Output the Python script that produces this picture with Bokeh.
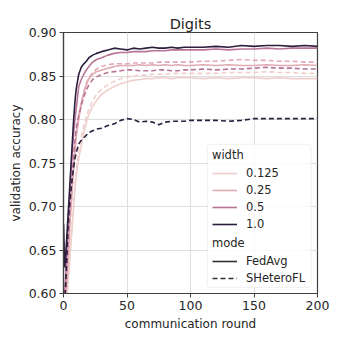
from bokeh.plotting import figure
from bokeh.models import (Range1d, FixedTicker, PrintfTickFormatter, Legend, LegendItem,
                          BoxAnnotation)
from bokeh.embed import file_html
from bokeh.resources import INLINE

# ---------------- data ----------------
rounds = [0, 1, 2, 3, 4, 5, 6, 7, 8, 9, 10, 12, 14, 16, 18, 20, 23, 26, 30, 35, 40, 45, 50,
          55, 60, 65, 70, 75, 80, 85, 90, 95, 100, 110, 120, 130, 140, 150, 160, 170, 180, 190, 200]

fedavg_1000 = [0.680, 0.630, 0.650, 0.675, 0.700, 0.725, 0.750, 0.775, 0.800, 0.820, 0.835,
               0.852, 0.860, 0.864, 0.867, 0.871, 0.874, 0.876, 0.878, 0.880, 0.882, 0.881, 0.880,
               0.882, 0.881, 0.882, 0.883, 0.882, 0.882, 0.883, 0.882, 0.883, 0.883, 0.883, 0.884,
               0.883, 0.885, 0.884, 0.885, 0.885, 0.884, 0.885, 0.884]
fedavg_0500 = [0.590, 0.600, 0.630, 0.660, 0.690, 0.715, 0.740, 0.765, 0.785, 0.800, 0.812,
               0.838, 0.846, 0.852, 0.857, 0.861, 0.866, 0.869, 0.871, 0.874, 0.876, 0.877, 0.877,
               0.878, 0.878, 0.878, 0.879, 0.879, 0.879, 0.880, 0.880, 0.880, 0.880, 0.880, 0.881,
               0.880, 0.881, 0.881, 0.882, 0.881, 0.882, 0.882, 0.882]
fedavg_0250 = [0.590, 0.590, 0.600, 0.620, 0.650, 0.680, 0.700, 0.725, 0.745, 0.765, 0.780,
               0.800, 0.818, 0.830, 0.840, 0.847, 0.852, 0.855, 0.857, 0.859, 0.861, 0.862, 0.862,
               0.862, 0.863, 0.862, 0.863, 0.862, 0.863, 0.862, 0.863, 0.862, 0.862, 0.863, 0.862,
               0.863, 0.862, 0.862, 0.863, 0.862, 0.862, 0.863, 0.862]
fedavg_0125 = [0.580, 0.580, 0.590, 0.600, 0.620, 0.640, 0.660, 0.680, 0.700, 0.720, 0.735,
               0.755, 0.770, 0.785, 0.797, 0.806, 0.815, 0.822, 0.829, 0.834, 0.838, 0.841, 0.843,
               0.845, 0.846, 0.847, 0.847, 0.848, 0.848, 0.847, 0.848, 0.848, 0.848, 0.847, 0.848,
               0.847, 0.848, 0.848, 0.847, 0.848, 0.847, 0.847, 0.847]

hetero_1000 = [0.580, 0.590, 0.620, 0.660, 0.690, 0.705, 0.720, 0.734, 0.745, 0.755, 0.762,
               0.772, 0.776, 0.779, 0.782, 0.785, 0.787, 0.789, 0.790, 0.793, 0.795, 0.799, 0.801,
               0.800, 0.797, 0.798, 0.797, 0.794, 0.797, 0.798, 0.798, 0.798, 0.799, 0.799, 0.799,
               0.798, 0.799, 0.801, 0.801, 0.801, 0.801, 0.801, 0.801]
hetero_0500 = [0.590, 0.590, 0.610, 0.640, 0.670, 0.700, 0.720, 0.740, 0.760, 0.775, 0.790,
               0.805, 0.816, 0.826, 0.834, 0.840, 0.846, 0.849, 0.852, 0.854, 0.855, 0.856, 0.857,
               0.857, 0.856, 0.856, 0.856, 0.857, 0.857, 0.856, 0.856, 0.857, 0.857, 0.858, 0.857,
               0.858, 0.858, 0.859, 0.860, 0.859, 0.859, 0.858, 0.858]
hetero_0250 = [0.585, 0.590, 0.600, 0.625, 0.650, 0.680, 0.700, 0.725, 0.745, 0.765, 0.782,
               0.805, 0.820, 0.832, 0.842, 0.848, 0.854, 0.858, 0.861, 0.863, 0.864, 0.864, 0.864,
               0.865, 0.865, 0.865, 0.865, 0.866, 0.866, 0.866, 0.866, 0.866, 0.866, 0.867, 0.867,
               0.868, 0.869, 0.868, 0.868, 0.867, 0.867, 0.866, 0.866]
hetero_0125 = [0.580, 0.580, 0.590, 0.605, 0.625, 0.645, 0.665, 0.685, 0.705, 0.725, 0.740,
               0.765, 0.780, 0.793, 0.803, 0.812, 0.822, 0.829, 0.835, 0.840, 0.844, 0.847, 0.849,
               0.850, 0.851, 0.851, 0.852, 0.852, 0.852, 0.853, 0.853, 0.853, 0.853, 0.853, 0.853,
               0.854, 0.854, 0.854, 0.855, 0.854, 0.854, 0.853, 0.853]

widths = ["0.125", "0.25", "0.5", "1.0"]
modes = ["FedAvg", "SHeteroFL"]
x_ticks = [0, 50, 100, 150, 200]
y_ticks = [0.60, 0.65, 0.70, 0.75, 0.80, 0.85, 0.90]

# ---------------- style ----------------
colors = ["#efcfcb", "#e1aab2", "#b87496", "#2d1e3e"]
FONT = "DejaVu Sans"
TXT = "#262626"
EDGE = "#404040"
LW = 1.6
DASH = "5 3"
NAN = float("nan")

p = figure(width=335, height=335, output_backend="svg", toolbar_location=None,
           x_range=Range1d(0, 200), y_range=Range1d(0.60, 0.90),
           frame_width=254, frame_height=261,
           min_border_left=63, min_border_right=18, min_border_top=32, min_border_bottom=42,
           title="Digits")
p.background_fill_color = "white"
p.border_fill_color = "white"
p.outline_line_color = EDGE
p.outline_line_width = 1.2

p.title.align = "center"
p.title.text_font = FONT
p.title.text_font_size = "14.5px"
p.title.text_font_style = "normal"
p.title.text_color = TXT
p.title.standoff = 2

for ax in (p.xaxis[0], p.yaxis[0]):
    ax.axis_line_color = EDGE
    ax.axis_line_width = 1.2
    ax.major_tick_line_color = EDGE
    ax.major_tick_out = 4
    ax.major_tick_in = 0
    ax.minor_tick_line_color = None
    ax.major_label_text_font = FONT
    ax.major_label_text_font_size = "12.5px"
    ax.major_label_text_color = TXT
    ax.axis_label_text_font = FONT
    ax.axis_label_text_font_size = "12px"
    ax.axis_label_text_font_style = "normal"
    ax.axis_label_text_color = TXT
    ax.major_label_standoff = 3
    ax.axis_label_standoff = 4
p.yaxis[0].axis_label_standoff = 3

p.xaxis.ticker = FixedTicker(ticks=x_ticks)
p.yaxis.ticker = FixedTicker(ticks=y_ticks)
p.yaxis.formatter = PrintfTickFormatter(format="%.2f")
p.xaxis.axis_label = "communication round"
p.yaxis.axis_label = "validation accuracy"
p.grid.grid_line_color = "#dedede"
p.grid.grid_line_width = 1

fed = [fedavg_0125, fedavg_0250, fedavg_0500, fedavg_1000]
het = [hetero_0125, hetero_0250, hetero_0500, hetero_1000]

fed_r = []
for c, ys in zip(colors, fed):
    fed_r.append(p.line(rounds, ys, line_color=c, line_width=LW))
for c, ys in zip(colors, het):
    p.line(rounds, ys, line_color=c, line_width=LW, line_dash=DASH)

# legend-only handles (no visible data)
solid_h = p.line([NAN], [NAN], line_color="#333333", line_width=LW)
dash_h = p.line([NAN], [NAN], line_color="#333333", line_width=LW, line_dash=DASH)

# legend frame
p.add_layout(BoxAnnotation(left=113.3, right=195.0, bottom=0.607, top=0.7716,
                           fill_color="white", fill_alpha=0.8,
                           line_color="#cccccc", line_width=1, border_radius=3, level="overlay"))

def style_legend(lg):
    lg.border_line_alpha = 0
    lg.background_fill_alpha = 0
    lg.label_text_font = FONT
    lg.label_text_font_size = "11.5px"
    lg.label_text_color = TXT
    lg.title_text_font = FONT
    lg.title_text_font_size = "11.5px"
    lg.title_text_font_style = "normal"
    lg.title_text_color = TXT
    lg.glyph_width = 25
    lg.glyph_height = 14
    lg.label_height = 14
    lg.spacing = 3
    lg.padding = 0
    lg.margin = 0
    lg.label_standoff = 9
    lg.title_standoff = 4

lg1 = Legend(items=[LegendItem(label=w, renderers=[r]) for w, r in zip(widths, fed_r)],
             title="width", location=(149, 62))
lg2 = Legend(items=[LegendItem(label=modes[0], renderers=[solid_h]),
                    LegendItem(label=modes[1], renderers=[dash_h])],
             title="mode", location=(149, 8))
style_legend(lg1)
style_legend(lg2)
p.add_layout(lg1)
p.add_layout(lg2)

open("out.html", "w").write(file_html(p, INLINE))
